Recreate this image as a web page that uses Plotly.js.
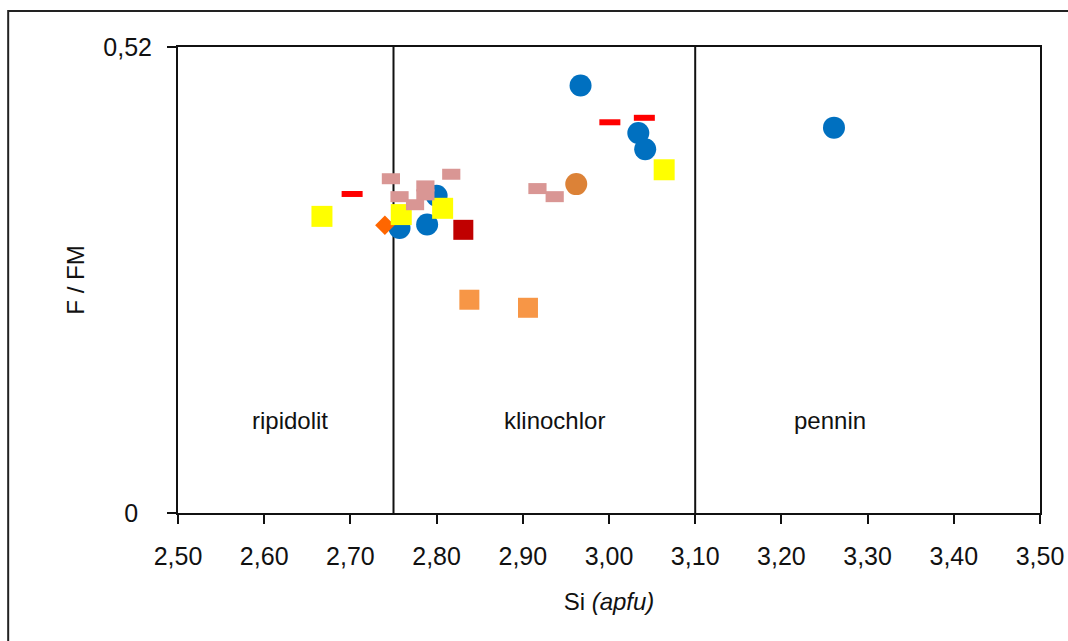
<!DOCTYPE html>
<html><head><meta charset="utf-8">
<script src="https://cdn.plot.ly/plotly-3.0.1.min.js"></script>
<style>html,body{margin:0;padding:0;background:#fff}#chart{width:1068px;height:641px}</style>
</head><body><div id="chart"></div>
<script>
// Data
const blueX = [2.967, 3.034, 3.042, 3.261, 2.800, 2.757, 2.789];
const blueY = [0.477, 0.424, 0.406, 0.430, 0.354, 0.318, 0.322];
const yellowX = [2.667, 2.759, 2.807, 3.064];
const yellowY = [0.331, 0.333, 0.340, 0.383];
const orangeSqX = [2.838, 2.906];
const orangeSqY = [0.238, 0.229];
const darkRedX = [2.831];
const darkRedY = [0.316];
const diamondX = [2.740];
const diamondY = [0.321];
const orangeCircX = [2.962];
const orangeCircY = [0.367];
const redDashX = [2.702, 3.001, 3.041];
const redDashY = [0.356, 0.436, 0.441];
const pinkX = [2.747, 2.817, 2.787, 2.787, 2.757, 2.775, 2.917, 2.937];
const pinkY = [0.373, 0.378, 0.365, 0.355, 0.353, 0.344, 0.362, 0.353];
const xTickVals = [2.5, 2.6, 2.7, 2.8, 2.9, 3.0, 3.1, 3.2, 3.3, 3.4, 3.5];
const xTickText = ['2,50','2,60','2,70','2,80','2,90','3,00','3,10','3,20','3,30','3,40','3,50'];
const yTickVals = [0, 0.52];
const yTickText = ['0\u00a0\u00a0', '0,52'];
const boundaries = [2.75, 3.10];
const fieldNames = ['ripidolit', 'klinochlor', 'pennin'];
const fieldX = [2.63, 2.937, 3.256];
const fieldY = [0.103, 0.103, 0.103];

const FONT = 'Liberation Sans, Arial, sans-serif';
function pts(x, y, marker) {
  return {type: 'scatter', mode: 'markers', x: x, y: y, marker: marker, hoverinfo: 'skip', showlegend: false, cliponaxis: false};
}
const traces = [
  pts(blueX, blueY, {symbol: 'circle', size: 22, color: '#0070C0', line: {width: 0}}),
  pts(orangeSqX, orangeSqY, {symbol: 'square', size: 20, color: '#F79646', line: {width: 0}}),
  pts(darkRedX, darkRedY, {symbol: 'square', size: 20, color: '#C00000', line: {width: 0}}),
  pts(diamondX, diamondY, {symbol: 'diamond', size: 15, color: '#FF6600', line: {width: 0}}),
  pts(orangeCircX, orangeCircY, {symbol: 'circle', size: 22, color: '#DC8237', line: {width: 0}}),
  pts(yellowX, yellowY, {symbol: 'square', size: 21, color: '#FFFF00', line: {width: 0}}),
  pts(redDashX, redDashY, {symbol: 'line-ew', size: 15, color: '#FF0000', line: {width: 6, color: '#FF0000'}}),
  pts(pinkX, pinkY, {symbol: 'line-ew', size: 13, color: '#D99694', line: {width: 11, color: '#D99694'}})
];

const shapes = boundaries.map(b => ({type: 'line', xref: 'x', yref: 'y', x0: b, x1: b, y0: 0, y1: 0.52,
  line: {color: '#111', width: 2}, layer: 'below'}));
shapes.push({type: 'rect', xref: 'paper', yref: 'paper', x0: -0.197, x1: 1.05, y0: -0.3, y1: 1.077,
  line: {color: '#222', width: 2}, fillcolor: 'rgba(0,0,0,0)', layer: 'below'});

const annotations = fieldNames.map((t, i) => ({x: fieldX[i], y: fieldY[i], xref: 'x', yref: 'y', text: t,
  showarrow: false, font: {family: FONT, size: 24, color: '#111'}}));

const layout = {
  width: 1068, height: 641,
  margin: {l: 178, r: 28, t: 47, b: 128},
  paper_bgcolor: '#fff', plot_bgcolor: '#fff',
  font: {family: FONT, size: 24, color: '#111'},
  xaxis: {range: [2.5, 3.5], tickvals: xTickVals, ticktext: xTickText, ticks: 'outside', ticklen: 9, tickwidth: 2,
    tickcolor: '#111', showline: true, linecolor: '#111', linewidth: 2, mirror: true, showgrid: false, zeroline: false,
    ticklabelstandoff: 11, tickfont: {family: FONT, size: 25, color: '#111'},
    title: {text: 'Si <i>(apfu)</i>', font: {family: FONT, size: 24, color: '#111'}, standoff: 24}, automargin: false},
  yaxis: {range: [0, 0.52], tickvals: yTickVals, ticktext: yTickText, ticks: 'outside', ticklen: 9, tickwidth: 2,
    tickcolor: '#111', showline: true, linecolor: '#111', linewidth: 2, mirror: true, showgrid: false, zeroline: false,
    ticklabelstandoff: 10, tickfont: {family: FONT, size: 25, color: '#111'},
    title: {text: 'F / FM', font: {family: FONT, size: 24, color: '#111'}, standoff: 12}, automargin: false},
  shapes: shapes,
  annotations: annotations,
  showlegend: false
};
Plotly.newPlot('chart', traces, layout, {staticPlot: true, displayModeBar: false});
</script></body></html>
